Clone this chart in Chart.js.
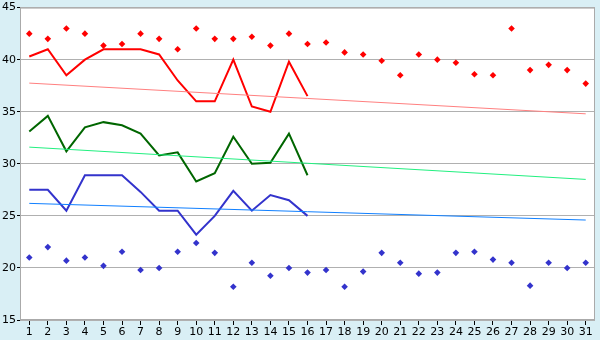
<!DOCTYPE html>
<html>
<head>
<meta charset="utf-8">
<script src="https://cdn.jsdelivr.net/npm/chart.js@4.4.0/dist/chart.umd.min.js"></script>
<style>
  html,body{margin:0;padding:0;background:#d9eff5;}
  #wrap{width:600px;height:340px;}
</style>
</head>
<body>
<div id="wrap"><canvas id="c" width="600" height="340"></canvas></div>
<script>
const days=['1','2','3','4','5','6','7','8','9','10','11','12','13','14','15','16','17','18','19','20','21','22','23','24','25','26','27','28','29','30','31'];

// daily highs / lows (markers)
const highPts=[42.5,42,43,42.5,41.35,41.5,42.5,42,41,43,42,42,42.2,41.35,42.5,41.5,41.65,40.7,40.5,39.9,38.5,40.5,40,39.7,38.6,38.5,43,39,39.5,39,37.7];
const lowPts=[21,22,20.7,21,20.2,21.55,19.8,20,21.55,22.4,21.45,18.2,20.5,19.25,20,19.55,19.8,18.2,19.65,21.45,20.5,19.45,19.55,21.45,21.55,20.8,20.5,18.3,20.5,20,20.5];

// smoothed series, first 16 days
const redLine=[40.3,41,38.5,40,41,41,41,40.5,38,36,36,40,35.5,35,39.8,36.5];
const greenLine=[33.1,34.6,31.2,33.5,34,33.7,32.9,30.8,31.1,28.3,29.1,32.6,30,30.1,32.9,28.9];
const blueLine=[27.5,27.5,25.5,28.9,28.9,28.9,27.3,25.5,25.5,23.2,25,27.4,25.5,27,26.5,25];

// trend lines: start and end values
const redTrend=[37.75,34.8];
const greenTrend=[31.6,28.5];
const blueTrend=[26.2,24.6];

function ends(pair){
  const a=Array(days.length).fill(null);
  a[0]=pair[0]; a[days.length-1]=pair[1];
  return a;
}

const plotBg={
  id:'plotBg',
  beforeDraw(chart){
    const {ctx,chartArea:a}=chart;
    ctx.save();
    ctx.fillStyle='#ffffff';
    ctx.fillRect(a.left,a.top,a.right-a.left,a.bottom-a.top);
    ctx.restore();
  },
  afterDatasetsDraw(chart){
    const {ctx,chartArea:a}=chart;
    ctx.save();
    ctx.strokeStyle='#aaaaaa';
    ctx.lineWidth=1;
    ctx.strokeRect(a.left+0.5,a.top+0.5,a.right-a.left-1,a.bottom-a.top-1);
    ctx.restore();
  }
};

const lineDs=(data,color,w)=>({type:'line',data,borderColor:color,backgroundColor:color,borderWidth:w,pointRadius:0,tension:0,fill:false,spanGaps:true});
const ptDs=(data,color)=>({type:'line',data,showLine:false,pointStyle:'rectRot',pointRadius:3.3,pointBorderWidth:0,pointBackgroundColor:color,borderColor:color});

new Chart(document.getElementById('c'),{
  type:'line',
  data:{labels:days,datasets:[
    lineDs(ends(redTrend),'#ff8080',1),
    lineDs(ends(greenTrend),'#22f080',1),
    lineDs(ends(blueTrend),'#1080ff',1),
    lineDs(redLine,'#ff0000',2),
    lineDs(greenLine,'#006600',2),
    lineDs(blueLine,'#3333cc',2),
    ptDs(highPts,'#ff0000'),
    ptDs(lowPts,'#3333cc'),
  ]},
  options:{
    responsive:false,animation:false,
    layout:{padding:{top:5,right:5,left:0,bottom:0}},
    plugins:{legend:{display:false},tooltip:{enabled:false}},
    scales:{
      x:{
        offset:true,
        grid:{offset:false,drawOnChartArea:false,drawTicks:true,tickLength:5,tickColor:'#000'},
        border:{display:false},
        ticks:{color:'#000',font:{family:'DejaVu Sans',size:11},padding:1,maxRotation:0,autoSkip:false},
        afterFit(s){s.height=20;}
      },
      y:{
        min:15,max:45,
        grid:{color:'#b0b0b0',drawTicks:true,tickLength:3,tickColor:'#000'},
        border:{color:'#aaaaaa'},
        ticks:{stepSize:5,color:'#000',font:{family:'DejaVu Sans',size:11},padding:1},
        afterFit(s){s.width=20;}
      }
    }
  },
  plugins:[plotBg]
});
</script>
</body>
</html>
